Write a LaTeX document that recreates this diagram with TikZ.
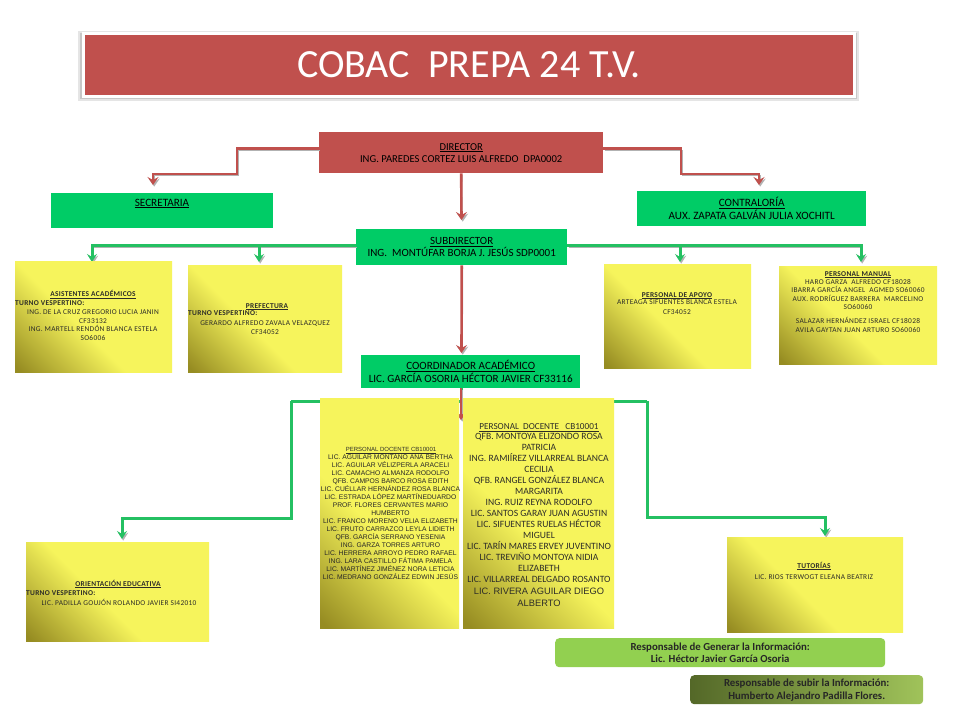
\documentclass[tikz,border=0pt]{standalone}
\usepackage{fontspec}
\setmainfont{Carlito}
\newfontfamily\arialf{Liberation Sans}
\newfontfamily\ysp[LetterSpace=4]{Carlito}
\usetikzlibrary{arrows.meta}
\definecolor{cred}{RGB}{192,80,77}
\definecolor{cgreen}{RGB}{0,204,102}
\definecolor{cgline}{RGB}{36,192,98}
\definecolor{ylight}{RGB}{246,244,92}
\definecolor{ydark}{RGB}{150,140,34}
\definecolor{lgreen}{RGB}{146,208,80}
\definecolor{ogdark}{RGB}{84,104,40}
\definecolor{oglight}{RGB}{160,195,90}
\definecolor{ytxt}{RGB}{45,45,40}
\newcommand{\fsz}[2]{\fontsize{#1}{#2}\selectfont}
\pgfdeclarehorizontalshading{yelsh}{100bp}{color(0bp)=(ydark); color(16bp)=(ydark); color(44bp)=(ylight); color(100bp)=(ylight)}
\tikzset{
  redbox/.style={fill=cred, inner sep=0pt, anchor=north west, align=center, text=black},
  grbox/.style={fill=cgreen, inner sep=0pt, anchor=north west, align=center, text=black},
  ybox/.style={shading=yelsh, shading angle=45, inner sep=0pt, anchor=north west},
  ytext/.style={text=ytxt, inner sep=0pt, font=\ysp\fsz{7.4}{8.5}, align=center},
  btext/.style={inner sep=0pt, align=center, text=black},
  redc/.style={draw=cred, line width=2.6pt, -{Stealth[length=8pt,width=11pt,inset=3pt]},
    preaction={draw=black!30, transform canvas={shift={(1.2pt,-1.6pt)}}}},
  grc/.style={draw=cgline, line width=3pt, -{Stealth[length=8pt,width=10pt,inset=3pt]},
    preaction={draw=black!30, transform canvas={shift={(1.2pt,-1.6pt)}}}},
  grl/.style={draw=cgline, line width=3pt,
    preaction={draw=black!30, transform canvas={shift={(1.2pt,-1.6pt)}}}},
}
\begin{document}
\begin{tikzpicture}[x=1pt,y=-1pt]
\useasboundingbox (0,0) rectangle (960,720);
\fill[white] (0,0) rectangle (960,720);
% title
\fill[black!10] (78,31) rectangle (859,101);
\fill[black!22] (80,33) rectangle (857,99);
\node[fill=cred, draw=white, line width=3pt, minimum width=771pt, minimum height=63pt, inner sep=0pt, anchor=north west] (tbox) at (82,32) {};
\node[text=white, inner sep=0pt, font=\fsz{40}{40}] (ttl) at (tbox.center) {COBAC\ \ PREPA 24 T.V.};

% connector anchor points
\coordinate (secA) at (153,185);
\coordinate (conA) at (759,185);
\coordinate (subA) at (461.5,220);
\coordinate (coA) at (461.5,353);
\coordinate (asA) at (92,262);
\coordinate (jL) at (259,245);
\coordinate (prA) at (259,262);
\coordinate (jR) at (680,245);
\coordinate (apA) at (680,262);
\coordinate (maA) at (861,262);
\coordinate (docA) at (461,420);
\coordinate (orA) at (122,539);
\coordinate (tuA) at (825,536);

% boxes (nodes)
\node[redbox, minimum width=284pt, minimum height=41pt, font=\fsz{10.6}{12}] (dir) at (319,132) {\underline{DIRECTOR}\\ING. PAREDES CORTEZ LUIS ALFREDO\ \ DPA0002};
\node[grbox, minimum width=222pt, minimum height=35pt] (sec) at (51,193) {};
\node[grbox, minimum width=229pt, minimum height=35pt, font=\fsz{11.2}{13}] (con) at (637,191) {\underline{CONTRALORÍA}\\AUX. ZAPATA GALVÁN JULIA XOCHITL};
\node[grbox, minimum width=211pt, minimum height=36pt, font=\fsz{11}{12}] (sub) at (356,229) {\underline{SUBDIRECTOR}\\ING.\ \ MONTÚFAR BORJA J. JESÚS SDP0001};
\node[grbox, minimum width=219pt, minimum height=33pt, font=\fsz{11.1}{13}] (coord) at (361,355) {\underline{COORDINADOR ACADÉMICO}\\LIC. GARCÍA OSORIA HÉCTOR JAVIER CF33116};

% red connectors
\draw[redc] ([yshift=4pt]dir.west) -| (237,174) -| (secA);
\draw[redc] ([yshift=4pt]dir.east) -| (681,174) -| (conA);
\draw[redc] (dir.south) -- (subA);
\draw[redc] (sub.south) -- (coA);

% green connectors from subdirector
\draw[grc] ([yshift=2pt]sub.west) -| (asA);
\draw[grc] (jL) -- (prA);
\draw[grc] ([yshift=2pt]sub.east) -| (maA);
\draw[grc] (jR) -- (apA);

% green connectors from coordinador (under docente boxes)
\draw[grl] (coord.south -| docA) |- (291,401);
\draw[grc] (291,401) |- (122,518) -- (orA);
\draw[grl] (coord.south -| docA) |- (647,401);
\draw[grc] (647,401) |- (825,517) -- (tuA);
\draw[redc] (coord.south -| docA) -- (docA);

% yellow boxes
\node[ybox, minimum width=157pt, minimum height=111pt] (asis) at (15,261) {};
\node[ybox, minimum width=154pt, minimum height=107pt] (pref) at (188,265) {};
\node[ybox, minimum width=147pt, minimum height=104pt] (apoyo) at (604,264) {};
\node[ybox, minimum width=158pt, minimum height=98pt] (manual) at (779,266) {};
\node[ybox, minimum width=139pt, minimum height=230pt] (docL) at (320,398) {};
\node[ybox, minimum width=151pt, minimum height=230pt] (docR) at (463,398) {};
\node[ybox, minimum width=183pt, minimum height=99pt] (orient) at (26,542) {};
\node[ybox, minimum width=176pt, minimum height=95pt] (tut) at (727,537) {};

% secretaria text
\node[btext, anchor=base, font=\fsz{11.2}{12}] (secT) at (162,206) {\underline{SECRETARIA}};

% asistentes
\node[ytext, anchor=base] (asT) at (93,296.5) {\bfseries\underline{ASISTENTES ACADÉMICOS}};
\node[ytext, anchor=base west] (asV) at (15,305) {\bfseries TURNO VESPERTINO:};
\node[ytext, anchor=north] (asN) at (93,309.5) {ING. DE LA CRUZ GREGORIO LUCIA JANIN\\CF33132\\ING. MARTELL RENDÓN BLANCA ESTELA\\SO6006};

% prefectura
\node[ytext, anchor=base] (prT) at (267,308) {\bfseries\underline{PREFECTURA}};
\node[ytext, anchor=base west] (prV) at (188,315) {\bfseries TURNO VESPERTINO:};
\node[ytext, anchor=north] (prN) at (265,320.5) {GERARDO ALFREDO ZAVALA VELAZQUEZ\\CF34052};

% personal de apoyo
\node[ytext, anchor=base] (apT) at (677,297) {\bfseries\underline{PERSONAL DE APOYO}};
\node[ytext, anchor=north, font=\ysp\fsz{7.4}{9.5}] (apN) at (677,299.5) {ARTEAGA SIFUENTES BLANCA ESTELA\\CF34052};

% personal manual
\node[ytext, anchor=base] (maT) at (858,276) {\bfseries\underline{PERSONAL MANUAL}};
\node[ytext, anchor=north] (maN) at (858,279) {HARO GARZA\ \ ALFREDO CF18028\\IBARRA GARCÍA ANGEL\ \ AGMED SO60060\\AUX. RODRÍGUEZ BARRERA\ \ MARCELINO\\SO60060};
\node[ytext, anchor=north] (maN2) at (858,317.5) {SALAZAR HERNÁNDEZ ISRAEL CF18028\\AVILA GAYTAN JUAN ARTURO SO60060};

% personal docente left
\node[ytext, anchor=base, font=\arialf\fsz{6}{6}] (dlT) at (391,451.5) {\underline{PERSONAL DOCENTE CB10001}};
\node[ytext, anchor=north, text=black!85, font=\arialf\fsz{6.75}{8}] (dlN) at (390.5,454.5) {LIC. AGUILAR MONTANO ANA BERTHA\\LIC. AGUILAR VÉLIZPERLA ARACELI\\LIC. CAMACHO ALMANZA RODOLFO\\QFB. CAMPOS BARCO ROSA EDITH\\LIC. CUÉLLAR HERNÁNDEZ ROSA BLANCA\\LIC. ESTRADA LÓPEZ MARTÍNEDUARDO\\PROF. FLORES CERVANTES MARIO\\HUMBERTO\\LIC. FRANCO MORENO VELIA ELIZABETH\\LIC. FRUTO CARRAZCO LEYLA LIDIETH\\QFB. GARCÍA SERRANO YESENIA\\ING. GARZA TORRES ARTURO\\LIC. HERRERA ARROYO PEDRO RAFAEL\\ING. LARA CASTILLO FÁTIMA PAMELA\\LIC. MARTÍNEZ JIMÉNEZ NORA LETICIA\\LIC. MEDRANO GONZÁLEZ EDWIN JESÚS};

% personal docente right
\node[ytext, anchor=base, font=\fsz{9.2}{11}] (drT) at (539,429.5) {\underline{PERSONAL\ \ DOCENTE\ \ \ CB10001}};
\node[ytext, anchor=north, font=\fsz{9.6}{11}] (drN) at (539,433.5) {QFB. MONTOYA ELIZONDO ROSA\\PATRICIA\\ING. RAMIÍREZ VILLARREAL BLANCA\\CECILIA\\QFB. RANGEL GONZÁLEZ BLANCA\\MARGARITA\\ING. RUIZ REYNA RODOLFO\\LIC. SANTOS GARAY JUAN AGUSTIN\\LIC. SIFUENTES RUELAS HÉCTOR\\MIGUEL\\LIC. TARÍN MARES ERVEY JUVENTINO\\LIC. TREVIÑO MONTOYA NIDIA\\ELIZABETH\\LIC. VILLARREAL DELGADO ROSANTO};
\node[ytext, anchor=north, font=\arialf\fsz{9.3}{12}] (drA) at (539,587.5) {LIC. RIVERA AGUILAR DIEGO\\ALBERTO};

% orientacion
\node[ytext, anchor=base] (orT) at (118,586) {\bfseries\underline{ORIENTACIÓN EDUCATIVA}};
\node[ytext, anchor=base west] (orV) at (26,595) {\bfseries TURNO VESPERTINO:};
\node[ytext, anchor=base] (orN) at (119,605) {LIC. PADILLA GOUJÓN ROLANDO JAVIER SI42010};

% tutorias
\node[ytext, anchor=base] (tuT) at (814,568) {\bfseries\underline{TUTORÍAS}};
\node[ytext, anchor=base] (tuN) at (814,579) {LIC. RIOS TERWOGT ELEANA BEATRIZ};

% bottom boxes
\node[rounded corners=4pt, fill=lgreen, minimum width=330pt, minimum height=29pt, inner sep=0pt, anchor=north west, align=center, text=black!85, font=\bfseries\fsz{10.8}{12}] (gen) at (555,638) {Responsable de Generar la Información:\\Lic. Héctor Javier\ García Osoria};
\node[rounded corners=4pt, left color=ogdark, right color=oglight, minimum width=233pt, minimum height=29pt, inner sep=0pt, anchor=north west, align=center, text=black!85, font=\bfseries\fsz{10.8}{13}] (upl) at (690,675) {Responsable de subir la Información:\\Humberto Alejandro Padilla Flores.};
\end{tikzpicture}
\end{document}
